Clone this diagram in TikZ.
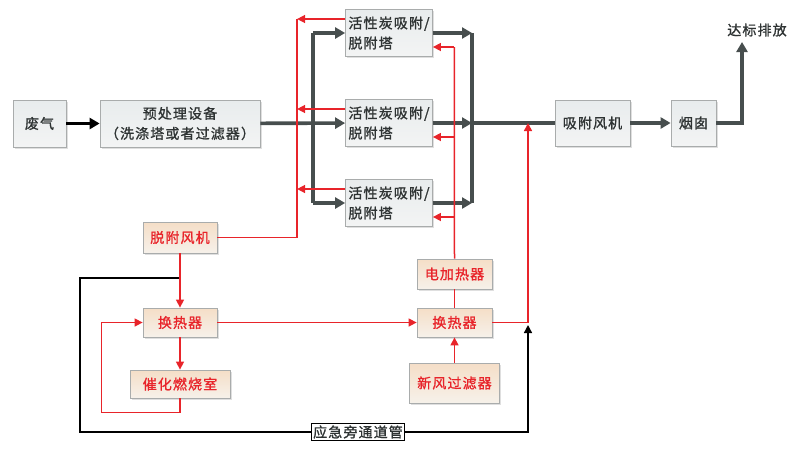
\documentclass[tikz,border=0pt]{standalone}
\usepackage{fontspec}
\setmainfont{Noto Sans CJK SC}[LetterSpace=8,FakeBold=1.2]
\usetikzlibrary{arrows.meta,shadows}

\definecolor{pipegray}{HTML}{474E4E}
\definecolor{hotred}{HTML}{E8242A}
\definecolor{boxedge}{HTML}{A9ACAC}
\definecolor{textgray}{HTML}{2E3333}

\tikzset{
  box/.style={draw=boxedge, line width=0.8pt, inner sep=2pt,
    top color={rgb,255:red,232;green,236;blue,237}, bottom color={rgb,255:red,243;green,244;blue,244},
    drop shadow={opacity=0.25, shadow xshift=1.5pt, shadow yshift=-1.5pt},
    text=textgray, font=\fontsize{14}{20}\selectfont},
  redbox/.style={box, top color={rgb,255:red,245;green,222;blue,199},
    bottom color={rgb,255:red,246;green,241;blue,234}, text=hotred},
  pipe/.style={pipegray, line width=3.6pt, -{Triangle[length=10pt,width=11pt]}},
  hot/.style={hotred, line width=1.5pt, -{Triangle[length=8pt,width=8pt]}},
  bypass/.style={black, line width=1.4pt}
}

\begin{document}
\begin{tikzpicture}[x=1pt,y=-1pt]
\useasboundingbox (0,0) rectangle (791,461);

% The main line
\node[box, minimum width=53pt, minimum height=47pt] (fq) at (39.5,123.5) {废气};
\node[box, minimum width=160pt, minimum height=47pt, align=center] (yclsb) at (180,123.5)
  {预处理设备\\（洗涤塔或者过滤器）};
\foreach \i/\y in {1/33,2/123,3/203}
  \node[box, minimum width=87pt, minimum height=47pt, align=left] (t\i) at (389,\y)
    {活性炭吸附/\\脱附塔};
\node[box, minimum width=75pt, minimum height=46pt] (xfj) at (592.5,123) {吸附风机};
\node[box, minimum width=45pt, minimum height=46pt] (yc) at (693.5,123) {烟囱};
\node[text=textgray, font=\fontsize{14}{20}\selectfont] (dbpf) at (757,30) {达标排放};

% The desorption loop
\node[redbox, minimum width=74pt, minimum height=31pt] (tfj) at (180,237.5) {脱附风机};
\node[redbox, minimum width=74pt, minimum height=29pt] (hrq1) at (180,322.5) {换热器};
\node[redbox, minimum width=100pt, minimum height=28pt] (chrs) at (180,384) {催化燃烧室};
\node[redbox, minimum width=75pt, minimum height=30pt] (djrq) at (454.5,274) {电加热器};
\node[redbox, minimum width=75pt, minimum height=29pt] (hrq2) at (454.5,322.5) {换热器};
\node[redbox, minimum width=90pt, minimum height=40pt] (xflq) at (454.5,383) {新风过滤器};
\node[draw=black, fill=white, line width=0.8pt, inner sep=2pt, text=textgray,
  font=\fontsize{14}{20}\selectfont] (yjpt) at (358,432) {应急旁通道管};

% The grey pipes
\coordinate (sl) at (313,123);
\coordinate (sr) at (472,123);
\coordinate (out) at (742,42);
\draw[pipe, black, line width=3pt] (fq) -- (yclsb);
\draw[pipe] (yclsb) -- (t2);
\draw[pipegray, line width=3.6pt] (sl |- t1) -- (sl |- t3);
\draw[pipegray, line width=3.6pt] (sr |- t1) -- (sr |- t3);
\foreach \i in {1,3}
  \draw[pipe] (sl |- t\i) -- (t\i);
\foreach \i in {1,2,3}
  \draw[pipe] (t\i) -- (sr |- t\i);
\draw[pipegray, line width=3.6pt] (sr) -- (xfj);
\draw[pipe] (xfj) -- (yc);
\draw[pipe] (yc) -| (out);

% The bypass
\coordinate (bp) at (180,278);
\coordinate (bj) at (528,325);
\draw[bypass] (bp) -- ++(-100,0) |- (yjpt);
\draw[bypass, -{Triangle[length=8pt,width=8pt]}] (yjpt) -| (bj);

% The red lines
\coordinate (rj) at (528,123);
\foreach \i in {1,2,3} {
  \draw[hot] ([yshift=14pt]t\i.west) -- ++(-48,0);
  \draw[hot] ([xshift=21.5pt,yshift=-14pt]t\i.east) -- ([yshift=-14pt]t\i.east);
}
\draw[hotred, line width=1.5pt] ([yshift=14pt]t1.west) ++(-48,0) |- (tfj);
\draw[hotred, line width=1.5pt] ([xshift=21.5pt,yshift=-14pt]t1.east) -- (djrq);
\draw[hot] (tfj) -- (hrq1);
\draw[hot] (hrq1) -- (chrs);
\draw[hot] (chrs.south) -- ++(0,14) -| ([xshift=-41pt]hrq1.west) -- (hrq1.west);
\draw[hot] (hrq1) -- (hrq2);
\draw[hotred, line width=1.5pt] (hrq2) -- (djrq);
\draw[hot] (xflq) -- (hrq2);
\draw[hot] (hrq2) -| (rj);
\end{tikzpicture}
\end{document}
